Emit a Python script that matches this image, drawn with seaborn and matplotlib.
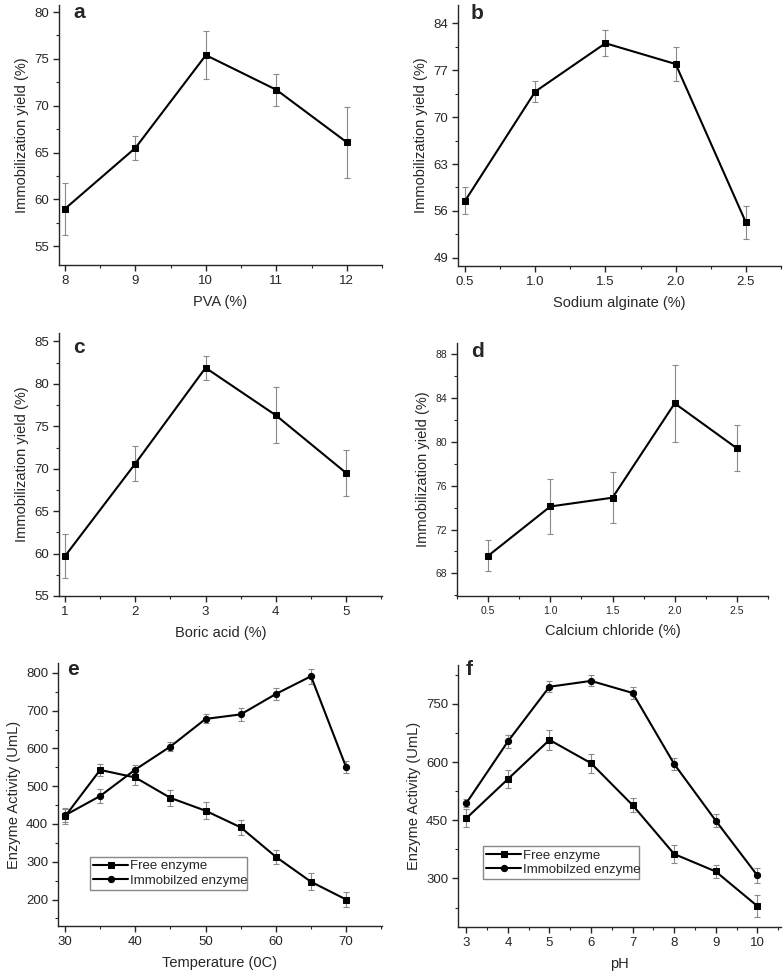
import numpy as np
import pandas as pd
import matplotlib
matplotlib.use("Agg")
import matplotlib.pyplot as plt
from matplotlib.ticker import MultipleLocator
import seaborn as sns

# panel a - PVA
pva_x = [8, 9, 10, 11, 12]
pva_y = [59.0, 65.5, 75.4, 71.7, 66.1]
pva_err = [2.8, 1.3, 2.6, 1.7, 3.8]

# panel b - sodium alginate
alg_x = [0.5, 1.0, 1.5, 2.0, 2.5]
alg_y = [57.5, 73.8, 81.0, 77.9, 54.3]
alg_err = [2.0, 1.6, 1.9, 2.5, 2.5]

# panel c - boric acid
bor_x = [1, 2, 3, 4, 5]
bor_y = [59.7, 70.6, 81.9, 76.3, 69.5]
bor_err = [2.6, 2.1, 1.4, 3.3, 2.7]

# panel d - calcium chloride
cal_x = [0.5, 1.0, 1.5, 2.0, 2.5]
cal_y = [69.6, 74.1, 74.9, 83.5, 79.4]
cal_err = [1.4, 2.5, 2.3, 3.5, 2.1]

# panel e - temperature
temp_x = [30, 35, 40, 45, 50, 55, 60, 65, 70]
temp_free = [420, 543, 523, 469, 435, 391, 313, 247, 200]
temp_free_err = [20, 16, 21, 21, 23, 20, 19, 23, 21]
temp_imm = [423, 474, 544, 605, 678, 690, 744, 791, 550]
temp_imm_err = [18, 19, 13, 11, 12, 17, 17, 20, 16]

# panel f - pH
ph_x = [3, 4, 5, 6, 7, 8, 9, 10]
ph_free = [455, 556, 657, 597, 489, 363, 318, 229]
ph_free_err = [23, 23, 25, 24, 19, 22, 18, 28]
ph_imm = [494, 653, 794, 809, 778, 595, 449, 308]
ph_imm_err = [11, 16, 14, 14, 16, 15, 17, 20]

sns.set_style("ticks")
plt.rcParams['font.family'] = ['Liberation Sans', 'DejaVu Sans']
plt.rcParams['axes.linewidth'] = 1.0

W, H = 784, 974
fig = plt.figure(figsize=(W / 100, H / 100), dpi=100)


def make_ax(left, top, right, bottom):
    return fig.add_axes([left / W, 1 - bottom / H, (right - left) / W, (bottom - top) / H])


ERR_COLOR = '#8a8a8a'


def draw_series(ax, x, y, err, marker, label=None):
    ax.errorbar(x, y, yerr=err, fmt='none', ecolor=ERR_COLOR, elinewidth=0.8,
                capsize=2.2, capthick=0.8, zorder=1)
    df = pd.DataFrame({'x': x, 'y': y})
    sns.lineplot(data=df, x='x', y='y', ax=ax, color='black', linewidth=1.5,
                 marker=marker, markersize=4.5, markeredgecolor='black',
                 markerfacecolor='black', label=label, zorder=2)


def style_ax(ax, xlim, ylim, xmaj, xmin, ymaj, ymin, xlabel, ylabel, letter,
             lpos, tick_fs=9.5):
    ax.set_xlim(*xlim)
    ax.set_ylim(*ylim)
    ax.xaxis.set_major_locator(MultipleLocator(xmaj))
    ax.xaxis.set_minor_locator(MultipleLocator(xmin))
    ax.yaxis.set_major_locator(MultipleLocator(ymaj))
    ax.yaxis.set_minor_locator(MultipleLocator(ymin))
    ax.tick_params(which='major', direction='out', length=4, width=1,
                   labelsize=tick_fs, pad=3)
    ax.tick_params(which='minor', direction='out', length=2.5, width=0.8)
    ax.set_xlabel(xlabel, fontsize=10.5, labelpad=6)
    ax.set_ylabel(ylabel, fontsize=10.5, labelpad=4)
    sns.despine(ax=ax)
    ax.text(lpos[0], lpos[1], letter, transform=ax.transAxes, fontsize=15,
            fontweight='bold', va='baseline', ha='left')


yl = 'Immobilization yield (%)'

ax_a = make_ax(59, 5, 382, 265)
draw_series(ax_a, pva_x, pva_y, pva_err, 's')
style_ax(ax_a, (7.915, 12.5), (53.0, 80.75), 1, 0.5, 5, 2.5,
         'PVA (%)', yl, 'a', (0.043, 0.95))
ax_a.set_xticks([8, 9, 10, 11, 12])

ax_b = make_ax(458, 5, 781, 266)
draw_series(ax_b, alg_x, alg_y, alg_err, 's')
style_ax(ax_b, (0.45, 2.75), (47.8, 86.7), 0.5, 0.25, 7, 3.5,
         'Sodium alginate (%)', yl, 'b', (0.04, 0.946))
ax_b.set_xticks([0.5, 1.0, 1.5, 2.0, 2.5])
ax_b.set_yticks([49, 56, 63, 70, 77, 84])

ax_c = make_ax(59, 333, 382, 596)
draw_series(ax_c, bor_x, bor_y, bor_err, 's')
style_ax(ax_c, (0.915, 5.51), (55, 86), 1, 0.5, 5, 2.5,
         'Boric acid (%)', yl, 'c', (0.043, 0.924))
ax_c.set_xticks([1, 2, 3, 4, 5])

ax_d = make_ax(457, 343, 768, 596)
draw_series(ax_d, cal_x, cal_y, cal_err, 's')
style_ax(ax_d, (0.25, 2.75), (65.94, 89.0), 0.5, 0.25, 4, 2,
         'Calcium chloride (%)', yl, 'd', (0.045, 0.946), tick_fs=7.5)
ax_d.set_xticks([0.5, 1.0, 1.5, 2.0, 2.5])
ax_d.set_yticks([68, 72, 76, 80, 84, 88])

ax_e = make_ax(58, 663, 382, 926)
draw_series(ax_e, temp_x, temp_free, temp_free_err, 's', 'Free enzyme')
draw_series(ax_e, temp_x, temp_imm, temp_imm_err, 'o', 'Immobilzed enzyme')
style_ax(ax_e, (29.0, 75.1), (130, 826), 10, 5, 100, 50,
         'Temperature (0C)', 'Enzyme Activity (UmL)', 'e', (0.027, 0.954))
ax_e.set_xticks([30, 40, 50, 60, 70])
ax_e.legend(loc='lower left', bbox_to_anchor=(0.099, 0.137, 0.484, 0.122),
            mode='expand', fontsize=9.5, frameon=True, fancybox=False,
            edgecolor='#888888', framealpha=1, borderpad=0.25, labelspacing=0.15,
            handlelength=2.6, handletextpad=0.2, borderaxespad=0)

ax_f = make_ax(458, 665, 781, 927)
draw_series(ax_f, ph_x, ph_free, ph_free_err, 's', 'Free enzyme')
draw_series(ax_f, ph_x, ph_imm, ph_imm_err, 'o', 'Immobilzed enzyme')
style_ax(ax_f, (2.8, 10.57), (175, 850), 1, 0.5, 150, 75,
         'pH', 'Enzyme Activity (UmL)', 'f', (0.025, 0.962))
ax_f.set_xticks([3, 4, 5, 6, 7, 8, 9, 10])
ax_f.set_yticks([300, 450, 600, 750])
ax_f.legend(loc='lower left', bbox_to_anchor=(0.078, 0.183, 0.482, 0.123),
            mode='expand', fontsize=9.5, frameon=True, fancybox=False,
            edgecolor='#888888', framealpha=1, borderpad=0.25, labelspacing=0.15,
            handlelength=2.6, handletextpad=0.2, borderaxespad=0)

fig.savefig('out.png', dpi=100)
